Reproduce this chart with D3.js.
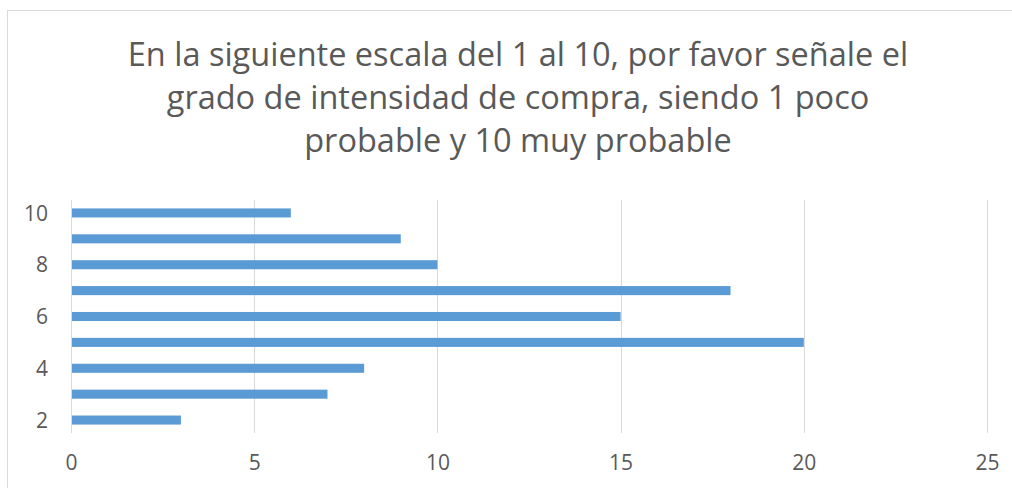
<!DOCTYPE html>
<html>
<head>
<meta charset="utf-8">
<script src="https://cdn.jsdelivr.net/npm/d3@7"></script>
<style>
  html, body { margin: 0; padding: 0; background: #fff; }
  svg { display: block; }
</style>
</head>
<body>
<script>
const categories = ["2", "3", "4", "5", "6", "7", "8", "9", "10"];
const values = [3, 7, 8, 20, 15, 18, 10, 9, 6];
const xTicks = [0, 5, 10, 15, 20, 25];
const yTickLabels = ["2", "4", "6", "8", "10"];
const titleLines = [
  "En la siguiente escala del 1 al 10, por favor señale el",
  "grado de intensidad de compra, siendo 1 poco",
  "probable y 10 muy probable"
];

const W = 1012, H = 488;
const svg = d3.select("body").append("svg").attr("width", W).attr("height", H);

// chart border
svg.append("rect").attr("x", 7.5).attr("y", 10.5).attr("width", 1100).attr("height", 600)
  .attr("fill", "#fff").attr("stroke", "#d9d9d9").attr("stroke-width", 1);

const x = d3.scaleLinear().domain([0, 25]).range([71, 987]);
const y = d3.scaleBand().domain(categories.slice().reverse()).range([200, 433]).paddingInner(0.65).paddingOuter(0.325);

// gridlines
svg.append("g").selectAll("line").data(xTicks).join("line")
  .attr("x1", d => Math.round(x(d)) + 0.5).attr("x2", d => Math.round(x(d)) + 0.5)
  .attr("y1", 200).attr("y2", 433)
  .attr("stroke", "#d9d9d9").attr("stroke-width", 1);

// bars
svg.append("g").selectAll("rect").data(categories).join("rect")
  .attr("x", x(0) + 1)
  .attr("y", (d) => y(d))
  .attr("width", (d, i) => x(values[i]) - x(0) - 1)
  .attr("height", y.bandwidth())
  .attr("fill", "#5b9bd5");

const fontFam = "'Open Sans', 'Liberation Sans', sans-serif";

// x axis labels
const xAxis = d3.axisBottom(x).tickValues(xTicks).tickSize(0).tickPadding(0);
const gx = svg.append("g").attr("transform", "translate(0,451)").call(xAxis);
gx.select(".domain").remove();
gx.selectAll("text").attr("font-family", fontFam).attr("font-size", 21).attr("fill", "#595959").attr("dy", "0.9em");

// y axis labels
const yAxis = d3.axisLeft(y).tickValues(yTickLabels).tickSize(0).tickPadding(0);
const gy = svg.append("g").attr("transform", "translate(48,1)").call(yAxis);
gy.select(".domain").remove();
gy.selectAll("text").attr("font-family", fontFam).attr("font-size", 21).attr("fill", "#595959");

// title
const title = svg.append("g");
titleLines.forEach((t, i) => {
  title.append("text").attr("x", 518).attr("y", 66 + i * 43)
    .attr("text-anchor", "middle").attr("font-family", fontFam)
    .attr("font-size", 32.5).attr("fill", "#595959").text(t);
});
</script>
</body>
</html>
